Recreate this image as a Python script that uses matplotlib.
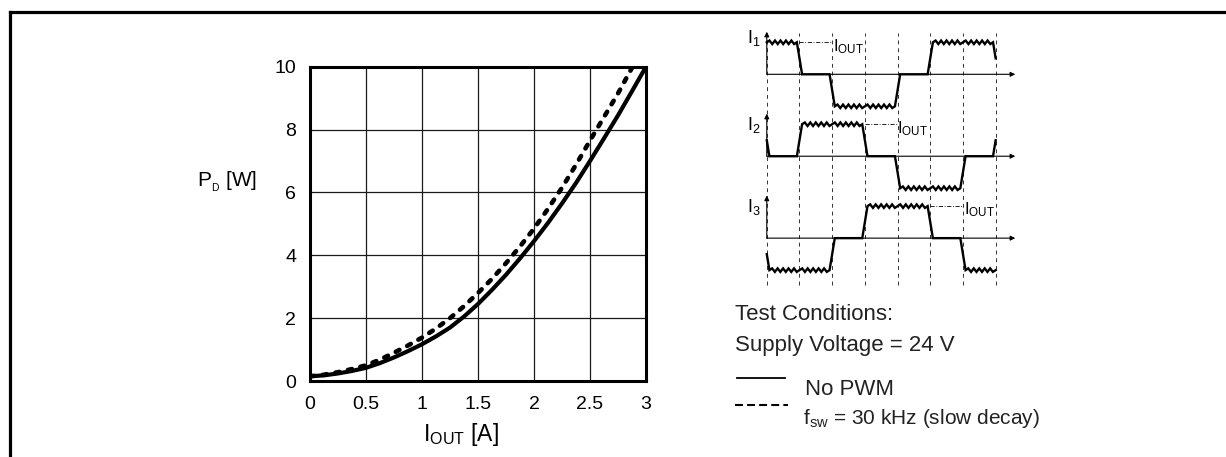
import numpy as np
import matplotlib
matplotlib.use("Agg")
import matplotlib.pyplot as plt
from matplotlib.lines import Line2D

plt.rcParams["font.family"] = ["Liberation Sans", "DejaVu Sans"]
plt.rcParams["mathtext.fontset"] = "custom"
plt.rcParams["mathtext.rm"] = "Liberation Sans"

# Power dissipation vs output current
i_out_nopwm = [0, 0.125, 0.25, 0.375, 0.5, 0.625, 0.75, 0.875, 1.0, 1.125, 1.25, 1.375,
               1.5, 1.625, 1.75, 1.875, 2.0, 2.125, 2.25, 2.375, 2.5, 2.625, 2.75,
               2.875, 3.0]
pd_nopwm = [0.15, 0.18, 0.24, 0.32, 0.42, 0.57, 0.75, 0.95, 1.17, 1.42, 1.7, 2.05,
            2.45, 2.9, 3.38, 3.9, 4.45, 5.03, 5.65, 6.3, 7.0, 7.72, 8.45,
            9.22, 10.0]
i_out_pwm = [0, 0.125, 0.25, 0.375, 0.5, 0.625, 0.75, 0.875, 1.0, 1.125, 1.25, 1.375,
             1.5, 1.625, 1.75, 1.875, 2.0, 2.125, 2.25, 2.375, 2.5, 2.625, 2.75,
             2.88]
pd_pwm = [0.15, 0.2, 0.28, 0.38, 0.5, 0.68, 0.9, 1.13, 1.38, 1.67, 2.0, 2.38,
          2.8, 3.25, 3.75, 4.28, 4.85, 5.48, 6.15, 6.88, 7.65, 8.4, 9.15,
          10.0]

x_ticks = [0, 0.5, 1, 1.5, 2, 2.5, 3]
x_tick_labels = ["0", "0.5", "1", "1.5", "2", "2.5", "3"]
y_ticks = [0, 2, 4, 6, 8, 10]
y_tick_labels = ["0", "2", "4", "6", "8", "10"]

# Commutation sketch: level of each phase current per 60 deg step
# (first entry = step before the drawing, last entry = step after it)
phase_names = ["1", "2", "3"]
phase_levels = [
    [1, 1, 0, -1, -1, 0, 1, 1, 0],
    [1, 0, 1, 1, 0, -1, -1, 0, 1],
    [0, -1, -1, 0, 1, 1, 0, -1, -1],
]
n_steps = 7


def fx(px):
    return px / 1226


def fy(py):
    return 1 - py / 457


def phase_wave(levels, w=0.08, teeth=6, ripple=0.055):
    ts, ys = [], []
    for k in range(-1, n_steps + 1):
        lev = levels[k + 1]
        prev = levels[k] if k >= 0 else lev
        nxt = levels[k + 2] if k + 2 < len(levels) else lev
        start = k + (w if prev != lev else 0)
        end = k + 1 - (w if nxt != lev else 0)
        if lev != 0:
            n = max(2, int(round((end - start) * teeth * 2)))
            t = np.linspace(start, end, n + 1)
            off = np.array([0] + [ripple if j % 2 else -ripple for j in range(1, n)] + [0])
            ts.extend(t)
            ys.extend(lev + off)
        else:
            ts.extend([start, end])
            ys.extend([0, 0])
    ts = np.array(ts)
    ys = np.array(ys)
    y0 = np.interp(0, ts, ys)
    y1 = np.interp(n_steps, ts, ys)
    keep = (ts > 0) & (ts < n_steps)
    return (np.concatenate([[0], ts[keep], [n_steps]]),
            np.concatenate([[y0], ys[keep], [y1]]))


fig = plt.figure(figsize=(12.26, 4.57), dpi=100)

# frame of the datasheet figure (top and left only)
fig.add_artist(Line2D([fx(10), fx(1226)], [fy(12), fy(12)], color="k", lw=2.3))
fig.add_artist(Line2D([fx(10), fx(10)], [fy(12), fy(457)], color="k", lw=2.3))

# main chart
ax = fig.add_axes([fx(310), fy(381), fx(646) - fx(310), fy(66.7) - fy(381)])
ax.plot(i_out_nopwm, pd_nopwm, color="k", lw=3.0, solid_capstyle="round",
        solid_joinstyle="round")
ax.plot(i_out_pwm, pd_pwm, color="k", lw=3.3, dashes=(0.9, 1.9),
        dash_capstyle="round")
ax.set_xlim(0, 3)
ax.set_ylim(0, 10)
ax.set_xticks(x_ticks, x_tick_labels)
ax.set_yticks(y_ticks, y_tick_labels)
ax.tick_params(length=0, labelsize=14)
ax.tick_params(axis="x", pad=11)
ax.tick_params(axis="y", pad=10)
ax.grid(True, color="#1a1a1a", lw=0.9)
ax.set_axisbelow(True)
for s in ax.spines.values():
    s.set_linewidth(2.2)

fig.text(fx(197), fy(186), r"$\mathregular{P_{_D}}$ [W]", fontsize=15, va="baseline")
fig.text(fx(423), fy(441), r"$\mathregular{I_{OUT}}$ [A]", fontsize=16.5, va="baseline")

# commutation sketch
ax2 = fig.add_axes([fx(743.9), fy(291.9), fx(1021.8) - fx(743.9), fy(23.1) - fy(291.9)])
ax2.set_xlim(-0.7, 7.8)
ax2.set_ylim(-6.8, 1.6)
ax2.axis("off")

offsets = [0, -2.56, -5.12]
ax2.vlines(range(n_steps + 1), -6.58, 1.29, colors="#333333", lw=0.7,
           linestyles=(0, (4, 4)))
arrow = dict(arrowstyle="-|>", lw=0.8, color="k", mutation_scale=7,
             shrinkA=0, shrinkB=0)
iout_pos = [(2.02, 0.71), (3.98, 0.73), (6.02, 0.75)]
name_pos = [0.97, 0.83, 0.83]
for k, off in enumerate(offsets):
    ax2.annotate("", xy=(7.6, off), xytext=(0, off), arrowprops=arrow)
    ax2.annotate("", xy=(0, off + 1.33), xytext=(0, off), arrowprops=arrow)
    t, y = phase_wave(phase_levels[k])
    ax2.plot(t, y + off, color="k", lw=1.7, solid_joinstyle="miter")
    # leader to the I_OUT label
    lead_start = 2 * k + 1
    ax2.plot([lead_start, lead_start + 1], [off + 1.0, off + 1.0], color="k",
             lw=0.6, linestyle="-.", dashes=(5, 2, 1, 2))
    ax2.text(iout_pos[k][0], off + iout_pos[k][1], r"$\mathregular{I_{OUT}}$",
             fontsize=12, va="baseline")
    ax2.text(-0.61, off + name_pos[k], r"$\mathregular{I_{%s}}$" % phase_names[k],
             fontsize=13, va="baseline")

# test conditions and legend
fig.text(fx(735), fy(320), "Test Conditions:", fontsize=16, va="baseline", color="#222222")
fig.text(fx(735), fy(351), "Supply Voltage = 24 V", fontsize=16, va="baseline", color="#222222")
fig.add_artist(Line2D([fx(737), fx(785)], [fy(377.7), fy(377.7)], color="k", lw=1.3))
fig.add_artist(Line2D([fx(735), fx(788)], [fy(405), fy(405)], color="k", lw=1.5,
                      dashes=(3.8, 2.0)))
fig.text(fx(805), fy(395), "No PWM", fontsize=16, va="baseline", color="#222222")
fig.text(fx(803), fy(424), r"f$_{\mathregular{sw}}$ = 30 kHz (slow decay)", fontsize=15,
         va="baseline", color="#222222")

fig.savefig("out.png", dpi=100)
